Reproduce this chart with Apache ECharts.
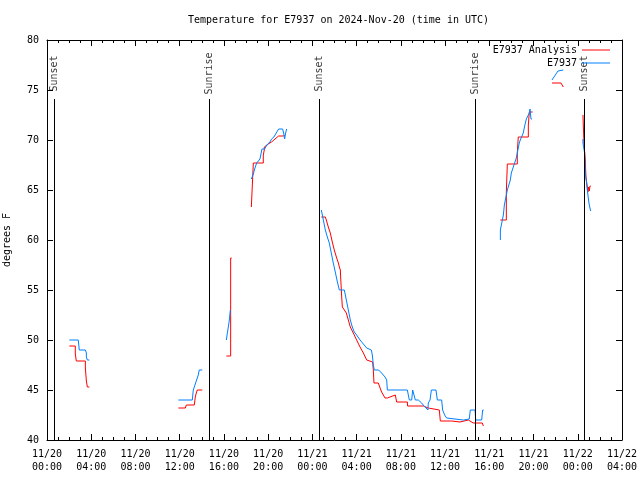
<!DOCTYPE html>
<html><head><meta charset="utf-8">
<script src="https://cdn.jsdelivr.net/npm/echarts/dist/echarts.min.js"></script>
<style>html,body{margin:0;padding:0;background:#fff}#c{width:640px;height:480px}</style>
</head><body><div id="c"></div>
<script>
// x values are hours since 2024-11-20 00:00 UTC
const xTickLabels = ['11/20\n00:00','11/20\n04:00','11/20\n08:00','11/20\n12:00','11/20\n16:00','11/20\n20:00',
  '11/21\n00:00','11/21\n04:00','11/21\n08:00','11/21\n12:00','11/21\n16:00','11/21\n20:00','11/22\n00:00','11/22\n04:00'];
const sunTimes = [0.66, 14.68, 24.66, 38.73, 48.59];
const sunLabels = ['Sunset','Sunrise','Sunset','Sunrise','Sunset'];

// E7937 Analysis (red), one sub-array per drawn segment
const analysisTimes = [
  [2.02,2.56,2.56,2.65,3.47,3.47,3.56,3.65,3.83],
  [11.88,12.51,12.60,13.32,13.41,13.50,13.59,14.04],
  [16.22,16.61,16.61,16.70],
  [18.48,18.57,18.57,18.66,19.56,19.56,19.65,19.65,20.01,20.31,20.62,20.95,21.40,21.49],
  [24.81,25.17,25.26,25.44,25.62,25.80,25.98,26.17,26.35,26.44,26.53,26.56,26.65,26.71,26.89,27.07,27.25,27.43,27.70,28.00,28.31,28.61,28.91,29.06,29.45,29.51,29.57,29.96,30.26,30.57,30.78,31.02,31.17,31.50,31.62,32.59,32.61,34.03,34.48,34.57,35.48,35.57,36.59,36.68,37.35,37.44,38.10,38.25,38.55,39.37,39.46],
  [41.00,41.54,41.54,41.63,41.63,42.53,42.53,42.62,42.62,43.53,43.53,43.62,43.62,43.92],
  [45.67,46.48,46.57,46.69],
  [48.47,48.56,48.56,48.65,48.68,48.74,48.86,48.92,48.98,49.04,49.10,49.17]
];
const analysisTemps = [
  [49.4,49.4,48.6,47.9,47.9,47.2,45.9,45.3,45.3],
  [43.2,43.2,43.5,43.5,44.3,44.7,45.0,45.0],
  [48.4,48.4,58.2,58.2],
  [63.3,63.3,65.5,67.7,67.7,68.5,69.0,69.3,69.6,69.8,70.1,70.4,70.4,70.5],
  [62.3,62.3,62.0,61.3,60.7,59.8,59.0,58.3,57.7,57.3,57.0,56.2,54.3,53.3,53.3,52.7,52.0,51.3,50.7,50.0,49.3,48.7,48.0,47.8,47.8,47.0,45.7,45.7,44.8,44.2,44.2,44.3,44.5,44.5,43.8,43.8,43.4,43.4,43.2,43.0,43.0,41.9,41.9,41.8,41.8,41.9,42.0,41.9,41.7,41.7,41.4],
  [62.0,62.0,64.8,64.8,67.6,67.6,68.7,68.7,70.3,70.3,71.5,71.5,72.8,72.8],
  [75.7,75.7,75.5,75.3],
  [72.5,72.5,69.7,69.7,68.0,66.3,66.2,64.8,65.3,64.9,65.4,65.4]
];

// E7937 station (blue)
const stationTimes = [
  [2.02,2.83,2.92,3.47,3.56,3.56,3.65,3.83],
  [11.88,13.14,13.23,13.32,13.41,13.50,13.59,13.68,13.77,14.04],
  [16.22,16.31,16.40,16.49,16.58,16.64],
  [18.48,18.66,18.66,18.75,18.84,18.96,19.14,19.26,19.44,19.44,19.68,19.77,19.95,20.16,20.31,20.52,20.73,20.95,21.31,21.40,21.49,21.58,21.67],
  [24.81,24.99,25.17,25.35,25.53,25.71,25.89,26.07,26.26,26.44,26.89,27.07,27.25,27.43,27.61,27.79,28.00,28.31,28.61,28.91,29.03,29.33,29.42,29.51,29.60,29.99,30.26,30.57,30.72,30.78,32.59,32.71,32.77,32.98,33.07,33.25,33.31,33.58,33.88,34.18,34.45,34.48,34.64,34.76,35.18,35.30,35.69,35.78,35.96,36.14,36.32,37.65,37.74,38.19,38.28,38.71,38.77,39.31,39.40,39.49],
  [41.00,41.00,41.09,41.18,41.27,41.36,41.36,41.45,41.54,41.63,41.81,41.90,41.99,42.08,42.17,42.26,42.35,42.44,42.53,42.62,42.71,42.80,42.98,43.07,43.16,43.26,43.35,43.53,43.62,43.68,43.77,43.77,43.86],
  [45.67,45.85,46.21,46.33,46.69],
  [48.47,48.47,48.56,48.62,48.68,48.74,48.80,48.86,48.92,49.01,49.10,49.17]
];
const stationTemps = [
  [50.0,50.0,49.0,49.0,48.7,48.3,48.0,48.0],
  [44.0,44.0,45.0,45.3,45.6,45.9,46.0,46.5,47.0,47.0],
  [50.0,50.7,51.3,52.0,53.0,53.0],
  [66.1,66.1,66.6,67.0,67.3,67.7,67.9,68.1,68.1,69.1,69.1,69.3,69.6,69.8,70.1,70.3,70.7,71.1,71.1,70.7,70.1,70.7,71.1],
  [63.0,62.0,61.0,60.3,59.7,58.7,57.7,56.8,55.8,55.0,55.0,54.0,53.0,52.0,51.3,50.8,50.5,50.0,49.6,49.2,49.0,49.0,48.5,47.5,47.0,47.0,46.7,46.3,46.0,45.0,45.0,44.3,44.0,44.0,45.0,45.0,44.0,44.0,43.7,43.3,43.0,43.7,44.0,45.0,45.0,44.0,44.0,43.0,42.5,42.2,42.0,42.0,42.1,42.1,43.0,43.0,42.0,42.0,43.0,43.0],
  [60.0,61.0,61.5,62.0,62.5,62.5,63.5,64.0,64.5,65.0,65.0,66.0,66.7,67.0,67.3,67.6,67.8,68.2,68.7,69.2,69.7,70.0,70.2,70.7,71.2,71.7,72.1,72.1,72.7,73.1,73.1,72.1,72.1],
  [76.0,76.2,76.9,77.0,77.0],
  [70.1,69.7,69.7,68.7,66.7,66.5,65.7,65.0,64.5,63.7,63.2,62.9]
];

function joinSegments(times, temps) {
  const out = [];
  times.forEach((seg, i) => {
    seg.forEach((t, j) => out.push([t, temps[i][j]]));
    out.push([seg[seg.length - 1] + 0.01, '-']);
  });
  return out;
}

const FONT = 'DejaVu Sans Mono';
const chart = echarts.init(document.getElementById('c'), null, {renderer: 'canvas'});
const baseX = {
  type: 'value', min: 0, max: 52, interval: 4,
  axisLine: {show: true, onZero: false, lineStyle: {color: '#000', width: 1}},
  axisTick: {show: true, inside: true, length: 6, lineStyle: {color: '#000'}},
  minorTick: {show: true, splitNumber: 4, length: 3, lineStyle: {color: '#000'}},
  splitLine: {show: false}
};
const baseY = {
  type: 'value', min: 40, max: 80, interval: 5,
  axisLine: {show: true, onZero: false, lineStyle: {color: '#000', width: 1}},
  axisTick: {show: true, inside: true, length: 6, lineStyle: {color: '#000'}},
  splitLine: {show: false}
};

chart.setOption({
  animation: false,
  backgroundColor: '#fff',
  title: {
    text: 'Temperature for E7937 on 2024-Nov-20 (time in UTC)',
    left: 183, top: 10,
    textStyle: {fontFamily: FONT, fontSize: 10, fontWeight: 'normal', color: '#000'}
  },
  legend: {
    data: ['E7937 Analysis', 'E7937'],
    orient: 'vertical', align: 'right',
    right: 25, top: 39,
    itemWidth: 28, itemHeight: 1, itemGap: 1,
    icon: 'rect',
    textStyle: {fontFamily: FONT, fontSize: 10, color: '#000', lineHeight: 12},
    selectedMode: false
  },
  grid: {left: 47, right: 18, top: 40, bottom: 40, containLabel: false, outerBoundsMode: 'none'},
  xAxis: [
    Object.assign({}, baseX, {
      position: 'bottom',
      axisLabel: {
        formatter: v => xTickLabels[Math.round(v / 4)],
        fontFamily: FONT, fontSize: 10, color: '#000', lineHeight: 13, margin: 8
      }
    }),
    Object.assign({}, baseX, {position: 'top', axisLabel: {show: false}})
  ],
  yAxis: [
    Object.assign({}, baseY, {
      position: 'left',
      name: 'degrees F', nameLocation: 'middle', nameGap: 35, nameRotate: 90,
      nameTextStyle: {fontFamily: FONT, fontSize: 10, color: '#000'},
      axisLabel: {fontFamily: FONT, fontSize: 10, color: '#000', margin: 8}
    }),
    Object.assign({}, baseY, {position: 'right', axisLabel: {show: false}})
  ],
  series: [
    {
      name: 'E7937 Analysis', type: 'line', xAxisIndex: 0, yAxisIndex: 0,
      data: joinSegments(analysisTimes, analysisTemps),
      showSymbol: false, symbol: 'none', connectNulls: false,
      itemStyle: {color: '#ff0000'},
      lineStyle: {color: '#ff0000', width: 1}
    },
    {
      name: 'E7937', type: 'line', xAxisIndex: 0, yAxisIndex: 0,
      data: joinSegments(stationTimes, stationTemps),
      showSymbol: false, symbol: 'none', connectNulls: false,
      itemStyle: {color: '#0080ff'},
      lineStyle: {color: '#0080ff', width: 1}
    },
    {
      name: 'sun', type: 'scatter', xAxisIndex: 0, yAxisIndex: 0,
      data: sunTimes.map(t => [t, 76.55]),
      symbolSize: 0, silent: true,
      label: {
        show: true, position: 'inside', rotate: 90,
        formatter: p => sunLabels[p.dataIndex],
        fontFamily: FONT, fontSize: 10, color: '#000', offset: [1, 0]
      },
      markLine: {
        silent: true, symbol: ['none', 'none'],
        label: {show: false},
        lineStyle: {color: '#000', width: 1, type: 'solid'},
        data: sunTimes.map(t => [{coord: [t, 40]}, {coord: [t, 74.1]}])
      }
    }
  ]
});
</script></body></html>
